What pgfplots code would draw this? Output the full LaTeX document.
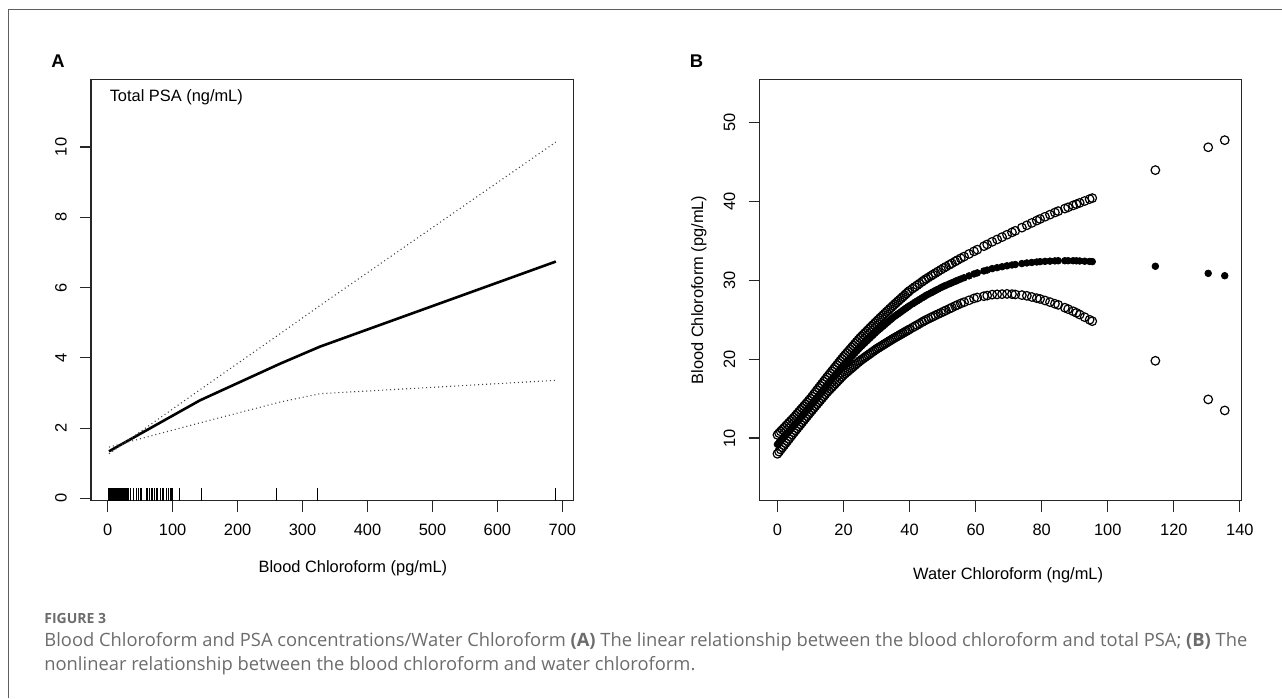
\documentclass[border=0pt]{standalone}
\usepackage{pgfplots}
\pgfplotsset{compat=1.18}
\usepackage{pgfplotstable}
\usepackage{fontspec}
\setmainfont{Liberation Sans}
\newfontfamily\capfont{Open Sans}

\definecolor{capgray}{RGB}{108,108,108}
\definecolor{framegray}{RGB}{95,95,95}

% panel A: spline fit and 95% band
\pgfplotstableread{
x    fit   lo    hi
2    1.34  1.46  1.27
142  2.79  2.15  3.09
265  3.83  2.74  4.68
327  4.32  2.98  5.49
690  6.74  3.36  10.14
}\psatab

% panel A: rug of observed blood chloroform (drawn from the axis floor)
\pgfplotstableread{
x      base
2.0    -0.06
2.8    -0.06
3.6    -0.06
4.4    -0.06
5.2    -0.06
6.0    -0.06
6.8    -0.06
7.6    -0.06
8.4    -0.06
9.2    -0.06
10.0   -0.06
10.8   -0.06
11.6   -0.06
12.4   -0.06
13.2   -0.06
14.0   -0.06
14.8   -0.06
15.6   -0.06
16.4   -0.06
17.2   -0.06
18.0   -0.06
18.8   -0.06
19.6   -0.06
20.4   -0.06
21.2   -0.06
22.0   -0.06
22.8   -0.06
23.6   -0.06
24.4   -0.06
25.2   -0.06
26.0   -0.06
26.8   -0.06
27.6   -0.06
28.4   -0.06
29.2   -0.06
30.0   -0.06
30.8   -0.06
31.6   -0.06
34.4   -0.06
39.5   -0.06
43.6   -0.06
47.2   -0.06
49.8   -0.06
52.4   -0.06
59.0   -0.06
61.6   -0.06
64.2   -0.06
66.7   -0.06
69.3   -0.06
71.4   -0.06
74.4   -0.06
77.0   -0.06
80.6   -0.06
83.7   -0.06
85.7   -0.06
89.8   -0.06
93.4   -0.06
96.0   -0.06
98.5   -0.06
100.1  -0.06
110.4  -0.06
144.3  -0.06
260.3  -0.06
322.9  -0.06
688.9  -0.06
}\rugtab

% panel B: fitted blood chloroform with lower/upper limits
\pgfplotstableread{
x     fit    lo     hi
0.0   9.20   8.00   10.40
0.5   9.44   8.27   10.62
1.0   9.68   8.54   10.84
1.5   9.92   8.81   11.06
2.0   10.16  9.08   11.28
2.5   10.40  9.35   11.50
3.0   10.64  9.62   11.72
3.5   10.88  9.89   11.94
4.0   11.12  10.16  12.16
4.5   11.36  10.43  12.38
5.0   11.60  10.70  12.60
5.5   11.85  10.96  12.84
6.0   12.10  11.22  13.08
6.5   12.35  11.48  13.32
7.0   12.60  11.74  13.56
7.5   12.85  12.00  13.80
8.0   13.10  12.26  14.04
8.5   13.35  12.52  14.28
9.0   13.60  12.78  14.52
9.5   13.85  13.04  14.76
10.0  14.10  13.30  15.00
10.5  14.36  13.55  15.27
11.0  14.62  13.80  15.54
11.5  14.88  14.05  15.81
12.0  15.14  14.30  16.08
12.5  15.40  14.55  16.35
13.0  15.66  14.80  16.62
13.5  15.92  15.05  16.89
14.0  16.18  15.30  17.16
14.5  16.44  15.55  17.43
15.0  16.70  15.80  17.70
15.5  16.95  16.02  17.96
16.0  17.20  16.24  18.22
16.5  17.45  16.46  18.48
17.0  17.70  16.68  18.74
17.5  17.95  16.90  19.00
18.0  18.20  17.12  19.26
18.5  18.45  17.34  19.52
19.0  18.70  17.56  19.78
19.5  18.95  17.78  20.04
20.0  19.20  18.00  20.30
20.5  19.43  18.18  20.54
21.0  19.66  18.36  20.78
21.5  19.89  18.54  21.02
22.0  20.12  18.72  21.26
22.5  20.35  18.90  21.50
23.0  20.58  19.08  21.74
23.5  20.81  19.26  21.98
24.0  21.04  19.44  22.22
24.5  21.27  19.62  22.46
25.0  21.50  19.80  22.70
25.5  21.70  19.95  22.91
26.0  21.90  20.10  23.12
26.5  22.10  20.25  23.33
27.0  22.30  20.40  23.54
27.5  22.50  20.55  23.75
28.0  22.70  20.70  23.96
28.5  22.90  20.85  24.17
29.0  23.10  21.00  24.38
29.5  23.30  21.15  24.59
30.0  23.50  21.30  24.80
30.5  23.68  21.43  25.00
31.0  23.86  21.56  25.20
31.5  24.04  21.69  25.40
32.0  24.22  21.82  25.60
32.5  24.40  21.95  25.80
33.0  24.58  22.08  26.00
33.5  24.76  22.21  26.20
34.0  24.94  22.34  26.40
34.5  25.12  22.47  26.60
35.0  25.30  22.60  26.80
35.5  25.45  22.72  26.99
36.0  25.60  22.84  27.18
36.5  25.75  22.96  27.37
37.0  25.90  23.08  27.56
37.5  26.05  23.20  27.75
38.0  26.20  23.32  27.94
38.5  26.35  23.44  28.13
39.0  26.50  23.56  28.32
39.5  26.65  23.68  28.51
40.0  26.80  23.80  28.70
40.9  27.03  24.02  28.97
41.6  27.22  24.18  29.18
42.3  27.40  24.35  29.39
43.0  27.58  24.52  29.60
43.8  27.79  24.71  29.84
44.4  27.94  24.86  30.02
45.0  28.10  25.00  30.20
45.7  28.25  25.14  30.38
46.5  28.43  25.30  30.59
47.1  28.56  25.42  30.75
47.8  28.72  25.56  30.93
48.6  28.89  25.72  31.14
49.5  29.09  25.90  31.37
50.3  29.25  26.06  31.57
51.0  29.38  26.20  31.74
52.0  29.56  26.40  31.98
52.8  29.70  26.56  32.17
53.8  29.88  26.76  32.41
54.5  30.01  26.90  32.58
55.5  30.18  27.08  32.81
56.5  30.34  27.24  33.03
58.0  30.58  27.48  33.36
59.5  30.82  27.72  33.69
60.5  30.96  27.84  33.91
62.5  31.20  28.00  34.35
63.5  31.32  28.08  34.57
65.0  31.50  28.20  34.90
66.5  31.62  28.23  35.20
68.0  31.74  28.26  35.50
69.5  31.86  28.29  35.80
71.0  31.96  28.26  36.10
72.0  32.02  28.22  36.30
74.0  32.14  28.14  36.70
75.5  32.22  28.05  37.00
77.0  32.28  27.90  37.30
78.5  32.34  27.75  37.60
79.5  32.38  27.65  37.80
81.0  32.42  27.46  38.08
82.5  32.45  27.25  38.35
84.0  32.48  27.04  38.62
85.0  32.50  26.90  38.80
87.0  32.50  26.54  39.12
88.0  32.50  26.36  39.28
89.5  32.50  26.09  39.52
90.5  32.49  25.89  39.68
91.5  32.47  25.67  39.84
93.0  32.44  25.34  40.08
94.5  32.41  25.01  40.32
95.3  32.39  24.83  40.45
114.4 31.80  19.80  44.00
130.4 30.90  14.90  46.90
135.4 30.60  13.50  47.80
}\watertab

\pgfplotsset{
  rbase/.style={
    scale only axis,
    axis line style={black!85, line width=0.55bp},
    every tick/.style={black!85, line width=0.55bp},
    tick align=outside,
    tick pos=left,
    major tick length=5.5bp,
    minor tick num=0,
    font=\fontsize{8.2bp}{9.8bp}\selectfont,
    tick label style={font=\fontsize{8.2bp}{9.8bp}\selectfont},
    /pgf/number format/assume math mode=true,
    xticklabel style={anchor=center, yshift=-9bp},
    yticklabel style={xshift=-9.5bp, rotate=90, anchor=center},
    clip=false,
  },
}

\begin{document}
\begin{tikzpicture}[x=0.5bp, y=-0.5bp]
\path[use as bounding box] (0,0) rectangle (1282,698);
\draw[framegray, line width=0.7bp] (8.5,698) -- (8.5,9.5) -- (1282,9.5);

\node[font=\fontsize{9.2bp}{11bp}\selectfont\bfseries] at (58,60.7) {A};
\node[font=\fontsize{9.2bp}{11bp}\selectfont\bfseries] at (696.6,60.7) {B};

% ---- panel A ----
\begin{axis}[
  rbase,
  at={(45.5bp,-250.25bp)}, anchor=south west,
  width=241.15bp, height=210.5bp,
  xmin=-25.7, xmax=716.9,
  ymin=-0.06, ymax=11.92,
  xtick={0,100,...,700},
  ytick={0,2,...,10},
  xlabel={Blood Chloroform (pg/mL)},
  xlabel style={at={(axis description cs:0.543,-0.160)}, anchor=center},
  ylabel={Total PSA (ng/mL)},
  ylabel style={rotate=-90, anchor=west, at={(axis description cs:0.0243,0.958)}},
]
\addplot[black, line width=1.3bp] table[x=x, y=fit] {\psatab};
\addplot[black!75, line width=0.55bp, dash pattern=on 0.5bp off 1.5bp] table[x=x, y=hi] {\psatab};
\addplot[black!75, line width=0.55bp, dash pattern=on 0.5bp off 1.5bp] table[x=x, y=lo] {\psatab};
\addplot[black, line width=0.5bp, quiver={u=0, v=0.36}] table[x=x, y=base] {\rugtab};
\end{axis}

% ---- panel B ----
\begin{axis}[
  rbase,
  at={(379.75bp,-250.25bp)}, anchor=south west,
  width=240.85bp, height=210.5bp,
  xmin=-5.42, xmax=140.4,
  ymin=2.07, ymax=55.5,
  xtick={0,20,...,140},
  ytick={10,20,...,50},
  xlabel={Water Chloroform (ng/mL)},
  xlabel style={at={(axis description cs:0.516,-0.178)}, anchor=center},
  ylabel={Blood Chloroform (pg/mL)},
  ylabel style={at={(axis description cs:-0.126,0.5)}, anchor=center},
]
\addplot[only marks, mark=o, mark size=2.15bp, mark options={black, line width=0.6bp}] table[x=x, y=hi] {\watertab};
\addplot[only marks, mark=o, mark size=2.15bp, mark options={black, line width=0.6bp}] table[x=x, y=lo] {\watertab};
\addplot[only marks, mark=*, mark size=1.65bp, mark options={black, fill=black}] table[x=x, y=fit] {\watertab};
\end{axis}

% ---- caption ----
\node[anchor=west, inner sep=0, text=capgray, font=\capfont\bfseries\fontsize{7.0bp}{8bp}\selectfont] at (44,618) {FIGURE 3};
\node[anchor=west, inner sep=0, text=capgray, font=\capfont\fontsize{9.17bp}{11bp}\selectfont] at (44,641.5)
  {Blood Chloroform and PSA concentrations/Water Chloroform \textbf{(A)} The linear relationship between the blood chloroform and total PSA; \textbf{(B)} The};
\node[anchor=west, inner sep=0, text=capgray, font=\capfont\fontsize{9.17bp}{11bp}\selectfont] at (44,666)
  {nonlinear relationship between the blood chloroform and water chloroform.};
\end{tikzpicture}
\end{document}
